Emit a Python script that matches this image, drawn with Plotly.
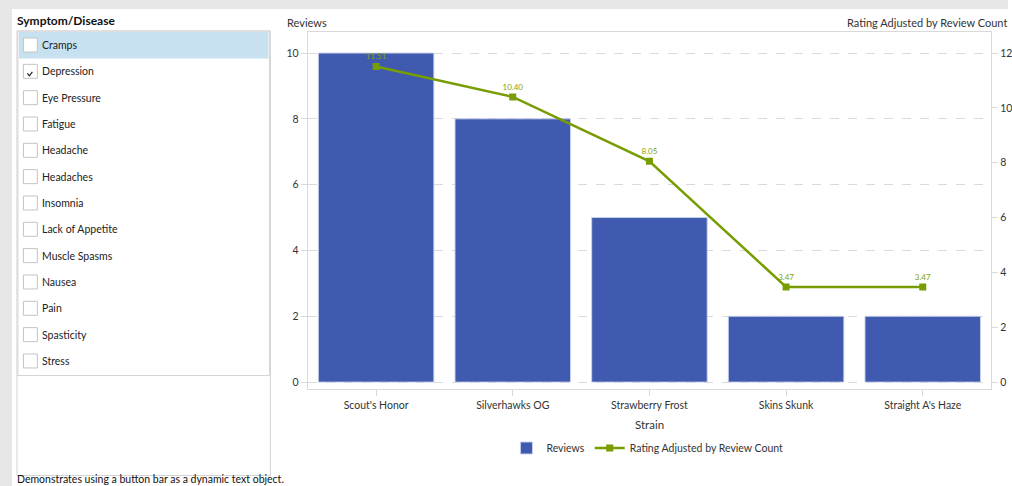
import plotly.graph_objects as go

# ---------------- data ----------------
strains = ["Scout's Honor", "Silverhawks OG", "Strawberry Frost", "Skins Skunk", "Straight A's Haze"]
reviews = [10, 8, 5, 2, 2]
ratings = [11.51, 10.40, 8.05, 3.47, 3.47]
symptoms = ["Cramps", "Depression", "Eye Pressure", "Fatigue", "Headache", "Headaches",
            "Insomnia", "Lack of Appetite", "Muscle Spasms", "Nausea", "Pain", "Spasticity", "Stress"]
checked = ["Depression"]
highlighted = ["Cramps"]
left_ticks = [0, 2, 4, 6, 8, 10]
right_ticks = [0, 2, 4, 6, 8, 10, 12]

# ---------------- layout helpers ----------------
W, H = 1012, 486
FONT = "Lato"
TXT = "#333333"
BAR = "#3F5AAE"
GREEN = "#789D02"
FS = 10.5


def px(x):
    return x / W


def py(y):
    return 1 - y / H


fig = go.Figure()

fig.add_trace(go.Bar(
    x=strains, y=reviews, name="Reviews",
    marker=dict(color=BAR, line=dict(color="rgba(200,210,235,0.9)", width=1)),
    yaxis="y",
))
fig.add_trace(go.Scatter(
    x=strains, y=ratings, name="Rating Adjusted by Review Count",
    mode="lines+markers+text",
    line=dict(color=GREEN, width=2.5),
    marker=dict(symbol="square", size=7, color=GREEN),
    text=[f"{v:.2f}" for v in ratings],
    textposition="top center",
    textfont=dict(family=FONT, size=8, color="#7FA40A"),
    yaxis="y2",
))

shapes = []
annotations = []

# page background elements
shapes.append(dict(type="rect", xref="paper", yref="paper", x0=px(0), x1=px(W), y0=py(0), y1=py(9),
                   fillcolor="#E6E6E6", line=dict(width=0), layer="below"))
shapes.append(dict(type="rect", xref="paper", yref="paper", x0=px(0), x1=px(12), y0=py(9), y1=py(H),
                   fillcolor="#E6E6E6", line=dict(width=0), layer="below"))

# left panel boxes
shapes.append(dict(type="rect", xref="paper", yref="paper", x0=px(17), x1=px(271.5), y0=py(31), y1=py(475.5),
                   fillcolor="white", line=dict(color="#D4D4D4", width=1), layer="below"))
shapes.append(dict(type="rect", xref="paper", yref="paper", x0=px(18), x1=px(270.5), y0=py(31), y1=py(375.5),
                   fillcolor="rgba(0,0,0,0)", line=dict(color="#D4D4D4", width=1), layer="below"))

annotations.append(dict(text="<b>Symptom/Disease</b>", x=px(15), y=py(21), xref="paper", yref="paper",
                        xanchor="left", yanchor="middle", showarrow=False,
                        font=dict(family=FONT, size=12, color="#111111")))

row0, step = 45, 26.33
for i, s in enumerate(symptoms):
    cy = row0 + i * step
    if s in highlighted:
        shapes.append(dict(type="rect", xref="paper", yref="paper", x0=px(19), x1=px(269.5),
                           y0=py(cy - 13), y1=py(cy + 13.5),
                           fillcolor="#C7E1F0", line=dict(width=0), layer="below"))
    shapes.append(dict(type="rect", xref="paper", yref="paper", x0=px(23.5), x1=px(37.5),
                       y0=py(cy - 7), y1=py(cy + 7),
                       fillcolor="white", line=dict(color="#C4C4C4", width=1)))
    if s in checked:
        path = (f"M {px(27.5)},{py(cy + 2)} L {px(29.5)},{py(cy + 4.5)} L {px(32.5)},{py(cy + 0.5)}")
        shapes.append(dict(type="path", xref="paper", yref="paper", path=path,
                           line=dict(color="#222222", width=1.2)))
    annotations.append(dict(text=s, x=px(40), y=py(cy), xref="paper", yref="paper",
                            xanchor="left", yanchor="middle", showarrow=False,
                            font=dict(family=FONT, size=FS, color="#222222")))

annotations.append(dict(text="Demonstrates using a button bar as a dynamic text object.",
                        x=px(15), y=py(479), xref="paper", yref="paper",
                        xanchor="left", yanchor="middle", showarrow=False,
                        font=dict(family=FONT, size=FS, color="#111111")))

# chart axis titles
annotations.append(dict(text="Reviews", x=px(286), y=py(22), xref="paper", yref="paper",
                        xanchor="left", yanchor="middle", showarrow=False,
                        font=dict(family=FONT, size=11, color=TXT)))
annotations.append(dict(text="Rating Adjusted by Review Count", x=px(848), y=py(22), xref="paper", yref="paper",
                        xanchor="left", yanchor="middle", showarrow=False,
                        font=dict(family=FONT, size=11, color=TXT)))
annotations.append(dict(text="Strain", x=px(652), y=py(424), xref="paper", yref="paper",
                        xanchor="center", yanchor="middle", showarrow=False,
                        font=dict(family=FONT, size=11.5, color=TXT)))

AX = "#D9D9D9"
fig.update_layout(
    width=W, height=H, autosize=False,
    margin=dict(l=0, r=0, t=0, b=0),
    paper_bgcolor="white", plot_bgcolor="white",
    font=dict(family=FONT, size=FS, color=TXT),
    bargap=0.155,
    showlegend=True,
    legend=dict(orientation="h", x=px(650), xanchor="center", y=py(448), yanchor="middle",
                font=dict(family=FONT, size=FS, color=TXT), bgcolor="rgba(0,0,0,0)"),
    xaxis=dict(domain=[px(309), px(995)], range=[-0.5, 4.5], type="category",
               showline=True, linecolor=AX, linewidth=1, mirror=True,
               ticks="outside", ticklen=6, tickcolor=AX, showgrid=False,
               tickfont=dict(family=FONT, size=FS, color=TXT)),
    yaxis=dict(domain=[py(389), py(32)], range=[-0.21, 10.64], tickvals=left_ticks,
               showline=True, linecolor=AX, linewidth=1, mirror=True,
               ticks="outside", ticklen=6, tickcolor=AX,
               showgrid=True, gridcolor="#DADADA", griddash="dash", gridwidth=1,
               zeroline=False, tickfont=dict(family=FONT, size=FS, color=TXT)),
    yaxis2=dict(overlaying="y", side="right", range=[-0.255, 12.77], tickvals=right_ticks,
                showline=False, ticks="outside", ticklen=6, tickcolor=AX,
                showgrid=False, zeroline=False, tickfont=dict(family=FONT, size=FS, color=TXT)),
    shapes=shapes,
    annotations=annotations,
)

fig.write_html(
    "out.html",
    config={"displayModeBar": False},
    post_script="document.body.style.margin='0';document.body.style.overflow='hidden';",
)
